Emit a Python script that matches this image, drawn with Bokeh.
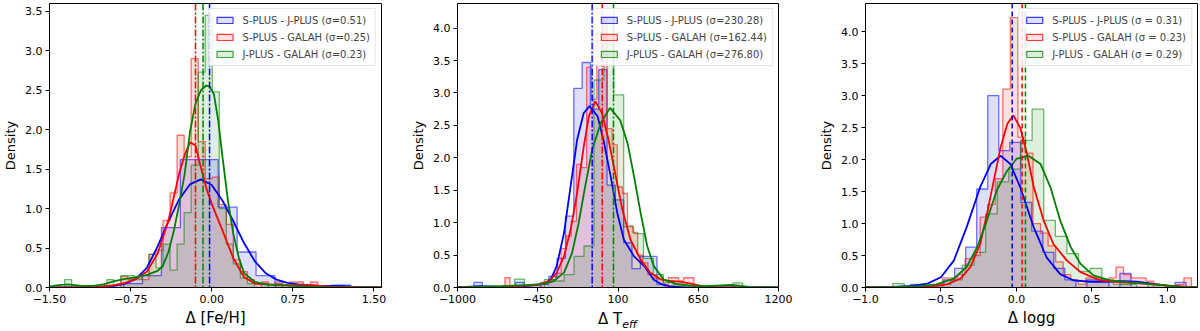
from bokeh.plotting import figure
from bokeh.layouts import row, column
from bokeh.models import Span, Legend, LegendItem, FixedTicker, PrintfTickFormatter, Range1d, Div
from bokeh.embed import file_html
from bokeh.resources import INLINE

FONT = "DejaVu Sans"
COLORS = ["#0000ff", "#ff0000", "#008000"]
NAN = float("nan")

# ---------------- Panel 1 : Delta [Fe/H] ----------------
fe_blue_edges = [-0.815, -0.64, -0.465, -0.29, -0.115, 0.06, 0.235, 0.41, 0.585, 0.76, 0.935, 1.11, 1.285]
fe_blue_h = [0.05, 0.15, 0.76, 1.62, 1.62, 1.02, 0.45, 0.15, 0.03, 0.0, 0.0, 0.03]
fe_red_edges = [-0.905, -0.84, -0.775, -0.71, -0.645, -0.58, -0.515, -0.45, -0.385, -0.32, -0.255, -0.19,
                -0.125, -0.06, 0.005, 0.07, 0.135, 0.2, 0.265, 0.33, 0.395, 0.46, 0.525, 0.59, 0.655, 0.72,
                0.785, 0.85, 0.915, 0.98]
fe_red_h = [0.0, 0.14, 0.1, 0.12, 0.1, 0.42, 0.47, 0.85, 1.2, 1.93, 1.66, 2.9, 1.85, 1.38, 1.4, 1.05, 0.8,
            0.35, 0.2, 0.1, 0.05, 0.07, 0.0, 0.07, 0.0, 0.07, 0.07, 0.0, 0.07]
fe_green_edges = [-1.36, -1.295, -1.23, -1.165, -1.1, -1.035, -0.97, -0.905, -0.84, -0.775, -0.71, -0.645,
                  -0.58, -0.515, -0.45, -0.385, -0.32, -0.255, -0.19, -0.125, -0.06, 0.005, 0.07, 0.135,
                  0.2, 0.265, 0.33, 0.395, 0.46, 0.525, 0.59, 0.655]
fe_green_h = [0.1, 0, 0, 0, 0, 0, 0.1, 0.0, 0.15, 0.15, 0.1, 0.15, 0.42, 0.25, 0.55, 0.22, 0.55, 0.95, 1.55,
              2.73, 3.45, 2.48, 1.0, 0.55, 0.3, 0.12, 0.05, 0.0, 0.05, 0.0, 0.05]

fe_blue_kde_x = [-1.5, -1.1, -0.9, -0.8, -0.7, -0.6, -0.5, -0.4, -0.3, -0.2, -0.1, 0.0, 0.1, 0.2, 0.3, 0.4,
                 0.5, 0.6, 0.7, 0.8, 0.9, 1.0, 1.1, 1.2, 1.3, 1.57]
fe_blue_kde_y = [0, 0.005, 0.02, 0.05, 0.11, 0.25, 0.52, 0.84, 1.12, 1.31, 1.37, 1.30, 1.10, 0.84, 0.56, 0.33,
                 0.18, 0.10, 0.06, 0.04, 0.03, 0.02, 0.02, 0.02, 0.01, 0]
fe_red_kde_x = [-1.5, -1.2, -1.0, -0.9, -0.8, -0.7, -0.6, -0.5, -0.4, -0.3, -0.25, -0.2, -0.15, -0.1, -0.05,
                0.0, 0.1, 0.2, 0.3, 0.4, 0.5, 0.7, 0.9, 1.1, 1.57]
fe_red_kde_y = [0, 0.003, 0.015, 0.03, 0.06, 0.11, 0.2, 0.43, 0.85, 1.45, 1.68, 1.84, 1.80, 1.52, 1.26, 1.06,
                0.72, 0.37, 0.13, 0.05, 0.04, 0.03, 0.03, 0.01, 0]
fe_green_kde_x = [-1.5, -1.42, -1.33, -1.2, -1.1, -1.0, -0.9, -0.8, -0.7, -0.6, -0.5, -0.45, -0.4, -0.35, -0.3,
                  -0.25, -0.2, -0.15, -0.1, -0.05, -0.02, 0.02, 0.06, 0.1, 0.15, 0.2, 0.25, 0.3, 0.4, 0.5, 0.6,
                  0.75, 0.9, 1.1, 1.57]
fe_green_kde_y = [0.01, 0.03, 0.04, 0.02, 0.02, 0.04, 0.08, 0.11, 0.13, 0.16, 0.21, 0.28, 0.45, 0.72, 1.06,
                  1.44, 1.98, 2.33, 2.50, 2.56, 2.55, 2.45, 2.12, 1.65, 1.10, 0.68, 0.38, 0.18, 0.07, 0.04,
                  0.03, 0.02, 0.01, 0.0, 0]
fe_means = [-0.02, -0.15, -0.08]
fe_labels = ["S-PLUS - J-PLUS (σ=0.51)", "S-PLUS - GALAH (σ=0.25)", "J-PLUS - GALAH (σ=0.23)"]
fe_xticks = [-1.5, -0.75, 0.0, 0.75, 1.5]
fe_xtick_labels = ["−1.50", "−0.75", "0.00", "0.75", "1.50"]
fe_yticks = [0.0, 0.5, 1.0, 1.5, 2.0, 2.5, 3.0, 3.5]

# ---------------- Panel 2 : Delta Teff ----------------
t_blue_edges = [-887, -830, -773, -716, -659, -602, -545, -488, -431, -374, -317, -260, -203, -146, -89, -32,
                25, 82, 139, 196, 253, 310, 367, 424]
t_blue_h = [0.08, 0, 0, 0, 0, 0.08, 0, 0, 0.05, 0.17, 0.45, 1.1, 3.07, 3.47, 2.75, 3.36, 1.58, 1.35, 0.69,
            0.29, 0.48, 0.48, 0.05]
t_red_edges = [-675, -640, -605, -570, -535, -500, -465, -430, -395, -360, -325, -290, -255, -220, -185, -150,
               -115, -80, -45, -10, 25, 60, 95, 130, 165, 200, 235, 270, 305, 340, 375, 410, 445, 480, 515,
               550, 585, 620, 655]
t_red_h = [0.15, 0, 0, 0, 0, 0, 0, 0.08, 0.08, 0.12, 0.22, 0.6, 0.8, 1.02, 1.9, 1.85, 3.4, 2.9, 3.93, 4.15,
           2.45, 2.2, 1.55, 1.45, 0.95, 0.85, 0.5, 0.38, 0.2, 0.15, 0.12, 0.05, 0.15, 0.15, 0.1, 0.15, 0.15,
           0.0]
t_green_edges = [-609, -541, -473, -405, -337, -269, -201, -133, -65, 3, 71, 139, 207, 275, 343, 411, 479,
                 547, 615, 683, 751, 819, 887, 955]
t_green_h = [0.13, 0.0, 0.0, 0.12, 0.1, 0.2, 0.48, 0.64, 3.2, 4.17, 2.97, 0.94, 0.83, 0.45, 0.2, 0.08, 0.05,
             0, 0, 0, 0, 0, 0.07]

t_blue_kde_x = [-1000, -850, -700, -550, -450, -400, -360, -320, -270, -225, -180, -135, -95, -40, 0, 50, 95,
                140, 210, 280, 345, 400, 450, 550, 650, 800, 1200]
t_blue_kde_y = [0.0, 0.02, 0.01, 0.02, 0.04, 0.06, 0.13, 0.33, 0.84, 1.56, 2.28, 2.69, 2.80, 2.64, 2.28,
                1.71, 1.15, 0.74, 0.48, 0.33, 0.12, 0.05, 0.02, 0.0, 0.0, 0.0, 0.0]
t_red_kde_x = [-1000, -800, -600, -450, -370, -320, -270, -225, -180, -135, -100, -55, -10, 35, 85, 130, 185,
               255, 320, 400, 450, 520, 600, 700, 800, 1200]
t_red_kde_y = [0, 0.01, 0.02, 0.04, 0.1, 0.23, 0.48, 0.89, 1.46, 2.17, 2.64, 2.87, 2.69, 2.28, 1.71, 1.2,
               0.74, 0.43, 0.23, 0.12, 0.1, 0.09, 0.06, 0.01, 0, 0]
t_green_kde_x = [-1000, -700, -500, -400, -340, -270, -215, -170, -125, -77, -20, 45, 115, 165, 210, 255, 300,
                 345, 415, 505, 600, 700, 880, 1000, 1200]
t_green_kde_y = [0, 0.02, 0.04, 0.06, 0.1, 0.23, 0.53, 0.99, 1.56, 2.12, 2.53, 2.77, 2.58, 2.23, 1.71, 1.15,
                 0.64, 0.33, 0.12, 0.05, 0.03, 0.02, 0.04, 0.01, 0]
t_means = [-77, -8, 69]
t_labels = ["S-PLUS - J-PLUS (σ=230.28)", "S-PLUS - GALAH (σ=162.44)", "J-PLUS - GALAH (σ=276.80)"]
t_xticks = [-1000, -450, 100, 650, 1200]
t_xtick_labels = ["−1000", "−450", "100", "650", "1200"]
t_yticks = [0.0, 0.5, 1.0, 1.5, 2.0, 2.5, 3.0, 3.5, 4.0]

# ---------------- Panel 3 : Delta logg ----------------
g_blue_edges = [-0.774, -0.701, -0.628, -0.555, -0.482, -0.409, -0.336, -0.263, -0.19, -0.117, -0.044, 0.029,
                0.102, 0.175, 0.248, 0.321, 0.394, 0.467, 0.54, 0.613, 0.686, 0.759, 0.832, 0.905, 0.978,
                1.051, 1.124]
g_blue_h = [0, 0.05, 0.0, 0.03, 0.12, 0.3, 0.63, 1.54, 3.0, 2.14, 2.27, 1.33, 0.88, 0.55, 0.3, 0.12, 0.0,
            0.12, 0.12, 0.0, 0.22, 0.0, 0.0, 0.0, 0.0, 0.08]
g_red_edges = [-0.54, -0.49, -0.44, -0.39, -0.34, -0.29, -0.24, -0.19, -0.14, -0.09, -0.04, 0.01, 0.06, 0.11,
               0.16, 0.21, 0.26, 0.31, 0.36, 0.41, 0.46, 0.51, 0.56, 0.61, 0.66, 0.71, 0.76, 0.81, 0.86, 0.91,
               0.96, 1.01, 1.06, 1.11, 1.16]
g_red_h = [0.0, 0.15, 0.15, 0.2, 0.45, 0.5, 1.1, 1.3, 1.7, 3.1, 4.22, 2.35, 2.1, 1.0, 0.85, 0.65, 0.4, 0.2,
           0.12, 0.05, 0.15, 0.15, 0.1, 0.15, 0.32, 0.2, 0.15, 0.15, 0.1, 0.0, 0.0, 0.0, 0.05, 0.15]
g_green_edges = [-0.82, -0.743, -0.666, -0.589, -0.512, -0.435, -0.358, -0.281, -0.204, -0.127, -0.05, 0.027,
                 0.104, 0.181, 0.258, 0.335, 0.412, 0.489, 0.566, 0.643, 0.72, 0.797, 0.874, 0.951]
g_green_h = [0.06, 0.0, 0.0, 0.0, 0.05, 0.12, 0.35, 0.55, 1.15, 1.65, 1.85, 2.3, 2.79, 1.05, 0.8, 0.53, 0.25,
             0.3, 0.12, 0.05, 0.05, 0.0, 0.05]

g_blue_kde_x = [-1.0, -0.8, -0.68, -0.59, -0.5, -0.415, -0.33, -0.24, -0.17, -0.105, -0.04, 0.025, 0.115,
                0.2, 0.29, 0.38, 0.49, 0.6, 0.7, 0.8, 0.9, 1.0, 1.1, 1.2]
g_blue_kde_y = [0.0, 0.01, 0.03, 0.06, 0.16, 0.42, 0.94, 1.57, 1.93, 2.06, 1.93, 1.57, 0.94, 0.47, 0.21,
                0.11, 0.09, 0.09, 0.1, 0.09, 0.06, 0.03, 0.01, 0.0]
g_red_kde_x = [-1.0, -0.7, -0.55, -0.46, -0.37, -0.305, -0.24, -0.195, -0.15, -0.105, -0.06, -0.02, 0.025,
               0.07, 0.115, 0.18, 0.245, 0.335, 0.425, 0.555, 0.7, 0.85, 0.95, 1.05, 1.2]
g_red_kde_y = [0.0, 0.01, 0.02, 0.05, 0.14, 0.32, 0.68, 1.15, 1.67, 2.19, 2.56, 2.69, 2.5, 2.09, 1.57, 1.05,
               0.68, 0.42, 0.24, 0.11, 0.08, 0.06, 0.04, 0.02, 0.0]
g_green_kde_x = [-1.0, -0.8, -0.65, -0.53, -0.415, -0.33, -0.26, -0.195, -0.13, -0.06, 0.0, 0.08, 0.16,
                 0.225, 0.29, 0.36, 0.425, 0.51, 0.62, 0.75, 0.9, 1.0, 1.1, 1.2]
g_green_kde_y = [0.0, 0.01, 0.02, 0.05, 0.14, 0.32, 0.63, 1.05, 1.52, 1.83, 2.01, 2.06, 1.93, 1.57, 1.05,
                 0.63, 0.37, 0.19, 0.11, 0.08, 0.05, 0.03, 0.01, 0.0]
g_means = [-0.028, 0.038, 0.06]
g_labels = ["S-PLUS - J-PLUS (σ = 0.31)", "S-PLUS - GALAH (σ = 0.23)", "J-PLUS - GALAH (σ = 0.29)"]
g_xticks = [-1.0, -0.5, 0.0, 0.5, 1.0]
g_xtick_labels = ["−1.0", "−0.5", "0.0", "0.5", "1.0"]
g_yticks = [0.0, 0.5, 1.0, 1.5, 2.0, 2.5, 3.0, 3.5, 4.0]

H = 331
MB_TOP = 3
MB_BOTTOM = 44
LABEL_H = 22  # height of the HTML x-label strip under panel 2


def make_panel(width, height, mbl, mbr, mbb, xr, yr, xticks, xtick_labels, yticks, xlabel,
               hists, kdes, means, dash, labels):
    p = figure(width=width, height=height, x_range=Range1d(*xr), y_range=Range1d(*yr),
               output_backend="svg", toolbar_location=None,
               min_border_left=mbl, min_border_right=mbr,
               min_border_top=MB_TOP, min_border_bottom=mbb)
    p.grid.visible = False
    p.outline_line_color = "black"
    p.outline_line_alpha = 1.0
    p.outline_line_width = 1
    p.background_fill_color = "white"
    p.border_fill_color = "white"

    for (edges, h), c in zip(hists, COLORS):
        p.varea_step(x=edges, y1=[0] * len(edges), y2=h + [0], step_mode="after",
                     fill_color=c, fill_alpha=0.13)
    for (edges, h), c in zip(hists, COLORS):
        p.step(x=[edges[0]] + edges, y=[0] + h + [0], mode="after",
               line_color=c, line_alpha=0.55, line_width=1.3)
    for (kx, ky), c in zip(kdes, COLORS):
        p.line(kx, ky, line_color=c, line_width=1.8)
    for m, c in zip(means, COLORS):
        p.add_layout(Span(location=m, dimension="height", line_color=c,
                          line_dash=dash, line_width=1.5))

    items = []
    for lab, c in zip(labels, COLORS):
        r = p.quad(left=[NAN], right=[NAN], top=[NAN], bottom=[NAN], fill_color=c, fill_alpha=0.13,
                   line_color=c, line_alpha=0.75, line_width=1.2)
        items.append(LegendItem(label=lab, renderers=[r], index=0))
    leg = Legend(items=items, location="top_right", margin=5, padding=5, spacing=5,
                 glyph_width=20, glyph_height=8, label_height=12, label_standoff=8,
                 label_text_font=FONT, label_text_font_size="10px",
                 border_line_color="#cccccc", border_line_width=1,
                 background_fill_color="white", background_fill_alpha=0.85)
    p.add_layout(leg)

    for ax in (p.xaxis[0], p.yaxis[0]):
        ax.axis_line_color = "black"
        ax.major_tick_line_color = "black"
        ax.major_tick_out = 4
        ax.major_tick_in = 0
        ax.minor_tick_out = 0
        ax.minor_tick_in = 0
        ax.major_label_text_font = FONT
        ax.major_label_text_font_size = "11px"
        ax.major_label_text_color = "black"
        ax.axis_label_text_font = FONT
        ax.axis_label_text_font_style = "normal"
        ax.axis_label_text_color = "black"
    p.xaxis.ticker = FixedTicker(ticks=xticks)
    p.xaxis.major_label_overrides = {t: s for t, s in zip(xticks, xtick_labels)}
    p.xaxis.major_label_standoff = 3
    p.xaxis.axis_label_standoff = 3
    p.xaxis.axis_label_text_font_size = "15px"
    if xlabel is not None:
        p.xaxis.axis_label = xlabel
    p.yaxis.ticker = FixedTicker(ticks=yticks)
    p.yaxis.formatter = PrintfTickFormatter(format="%.1f")
    p.yaxis.major_label_standoff = 3
    p.yaxis.axis_label_standoff = 4
    p.yaxis.axis_label = "Density"
    p.yaxis.axis_label_text_font_size = "13px"
    return p


p1 = make_panel(400, H, 48, 19, MB_BOTTOM, (-1.5, 1.57), (0, 3.6), fe_xticks, fe_xtick_labels, fe_yticks,
                "Δ [Fe/H]",
                [(fe_blue_edges, fe_blue_h), (fe_red_edges, fe_red_h), (fe_green_edges, fe_green_h)],
                [(fe_blue_kde_x, fe_blue_kde_y), (fe_red_kde_x, fe_red_kde_y), (fe_green_kde_x, fe_green_kde_y)],
                fe_means, "7 2 2 2", fe_labels)

p2 = make_panel(400, H - LABEL_H, 57, 22, MB_BOTTOM - LABEL_H, (-1000, 1200), (0, 4.38), t_xticks,
                t_xtick_labels, t_yticks, None,
                [(t_blue_edges, t_blue_h), (t_red_edges, t_red_h), (t_green_edges, t_green_h)],
                [(t_blue_kde_x, t_blue_kde_y), (t_red_kde_x, t_red_kde_y), (t_green_kde_x, t_green_kde_y)],
                t_means, "7 2 2 2", t_labels)
t_xlabel = Div(
    text=('<div style="width:400px;padding-left:35px;box-sizing:border-box;text-align:center;'
          'font-family:\'DejaVu Sans\';font-size:15px;line-height:20px;color:black;">'
          'Δ T<sub style="font-size:11px;font-style:italic;line-height:0;">eff</sub></div>'),
    width=400, height=LABEL_H, margin=0)

p3 = make_panel(400, H, 65, 3, MB_BOTTOM, (-1.0, 1.2), (0, 4.44), g_xticks, g_xtick_labels, g_yticks,
                "Δ logg",
                [(g_blue_edges, g_blue_h), (g_red_edges, g_red_h), (g_green_edges, g_green_h)],
                [(g_blue_kde_x, g_blue_kde_y), (g_red_kde_x, g_red_kde_y), (g_green_kde_x, g_green_kde_y)],
                g_means, "5 3", g_labels)

layout = row(p1, column(p2, t_xlabel, spacing=0), p3, spacing=0)
open("out.html", "w").write(file_html(layout, INLINE))
